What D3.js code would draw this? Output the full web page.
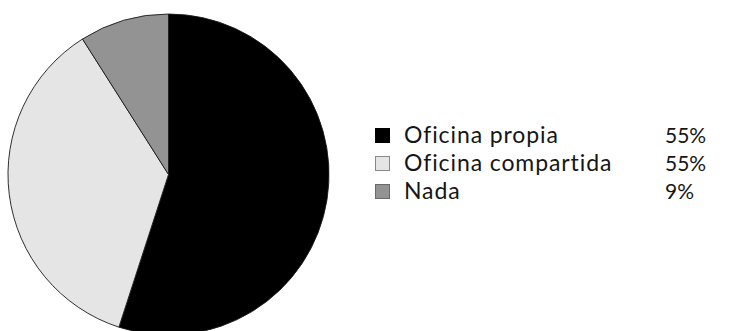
<!DOCTYPE html>
<html>
<head>
<meta charset="utf-8">
<script src="https://cdn.jsdelivr.net/npm/d3@7"></script>
<style>
  html, body { margin: 0; padding: 0; background: #fff; }
  svg { display: block; }
  text { font-family: Lato, "Open Sans", sans-serif; fill: #161616; }
</style>
</head>
<body>
<svg id="chart" width="739" height="331"></svg>
<script>
// Workspace type shares
const categories = ["Oficina propia", "Oficina compartida", "Nada"];
const shares = [55, 36, 9];
const shareLabels = ["55%", "55%", "9%"];
const colors = ["#000000", "#e5e5e5", "#939393"];
const swatchStrokes = ["#000000", "#8a8a8a", "#6a6a6a"];

const svg = d3.select("#chart");
const cx = 168.5, cy = 174.5, radius = 160.5;

const pie = d3.pie().sort(null).value(d => d.value);
const arc = d3.arc().innerRadius(0).outerRadius(radius);

const data = categories.map((c, i) => ({ name: c, value: shares[i], color: colors[i] }));

svg.append("g")
  .attr("transform", `translate(${cx},${cy})`)
  .selectAll("path")
  .data(pie(data))
  .join("path")
  .attr("d", arc)
  .attr("fill", d => d.data.color)
  .attr("stroke", "#1a1a1a")
  .attr("stroke-width", 0.9);

// Legend
const rowY = d3.scalePoint().domain(categories).range([135, 191]);
const legend = svg.append("g");
const rows = legend.selectAll("g")
  .data(data)
  .join("g")
  .attr("transform", d => `translate(0,${rowY(d.name)})`);

rows.append("rect")
  .attr("x", 375.5).attr("y", -6.5)
  .attr("width", 14).attr("height", 14)
  .attr("fill", d => d.color)
  .attr("stroke", (d, i) => swatchStrokes[i])
  .attr("stroke-width", 1);

rows.append("text")
  .attr("x", 404).attr("y", 0).attr("dy", "0.36em")
  .style("font-size", "23px")
  .style("letter-spacing", "0.9px")
  .text(d => d.name);

rows.append("text")
  .attr("x", 665).attr("y", 0).attr("dy", "0.36em")
  .style("font-size", "21px")
  .text((d, i) => shareLabels[i]);
</script>
</body>
</html>
